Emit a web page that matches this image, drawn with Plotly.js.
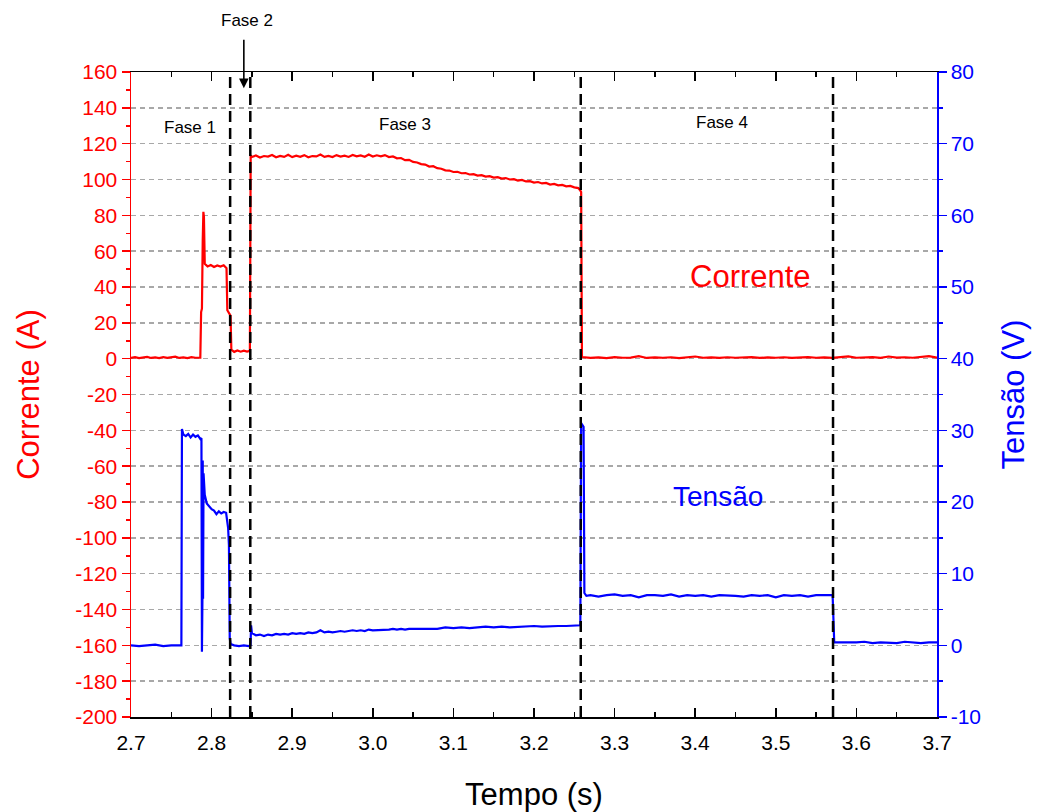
<!DOCTYPE html>
<html>
<head>
<meta charset="utf-8">
<script src="https://cdn.plot.ly/plotly-3.0.1.min.js"></script>
<style>html,body{margin:0;padding:0;background:#fff}#chart{width:1040px;height:812px}</style>
</head>
<body>
<div id="chart"></div>
<script>
// ---- Data ----
// Corrente (A) vs Tempo (s)
const tempoCorrente = [
  2.700,2.705,2.710,2.715,2.720,2.725,2.730,2.735,2.740,2.745,2.750,2.755,2.760,2.765,2.770,2.775,2.780,2.786,
  2.7870,2.7880,2.7890,2.7898,2.7905,2.7915,2.795,2.799,2.803,2.807,2.811,2.815,2.8185,2.8195,2.8215,2.8235,2.8245,
  2.828,2.832,2.836,2.840,2.844,2.8475,2.8485,
  2.850,2.855,2.860,2.865,2.870,2.875,2.880,2.885,2.890,2.895,2.900,2.905,2.910,2.915,2.920,2.925,2.930,2.935,2.940,2.945,
  2.950,2.955,2.960,2.965,2.970,2.975,2.980,2.985,2.990,2.995,3.000,3.005,3.010,3.015,3.020,3.025,3.030,3.035,3.040,3.045,
  3.050,3.055,3.060,3.065,3.070,3.075,3.080,3.085,3.090,3.095,3.100,3.105,3.110,3.115,3.120,3.125,3.130,3.135,3.140,3.145,
  3.150,3.155,3.160,3.165,3.170,3.175,3.180,3.185,3.190,3.195,3.200,3.205,3.210,3.215,3.220,3.225,3.230,3.235,3.240,3.245,
  3.250,3.255,3.2575,3.2585,3.2595,
  3.270,3.280,3.290,3.300,3.310,3.320,3.330,3.340,3.350,3.360,3.370,3.380,3.390,3.400,3.410,3.420,3.430,3.440,3.450,3.460,
  3.470,3.480,3.490,3.500,3.510,3.520,3.530,3.540,3.550,3.560,3.570,3.580,3.590,3.600,3.610,3.620,3.630,3.640,3.650,3.660,
  3.670,3.680,3.690,3.700
];
const corrente = [
  0.4,0.8,0.3,0.6,1.0,0.4,0.7,0.3,0.9,0.5,0.6,1.1,0.4,0.7,0.3,0.8,0.5,0.6,
  26,28,66,82,79,53,51.5,52.3,51.2,52.0,51.4,52.1,50.5,27,25.5,24,5,
  3.8,4.6,3.9,4.5,4.0,4.4,113.5,
  112.6,113.4,112.3,113.1,112.8,113.7,112.4,113.2,112.6,113.8,112.5,113.3,112.7,113.6,112.4,113.1,112.9,113.9,112.6,113.2,
  112.5,113.6,112.8,113.3,112.6,113.7,112.9,113.4,112.7,113.9,112.8,113.5,112.9,113.6,112.5,112.9,111.8,112.0,110.8,111.0,
  109.8,109.5,108.6,108.3,107.2,107.4,106.3,106.0,105.1,105.0,104.2,104.3,103.5,103.6,102.8,103.0,102.2,102.4,101.6,101.9,
  101.1,101.3,100.5,100.8,100.0,100.2,99.4,99.8,98.9,99.1,98.3,98.6,97.8,98.1,97.2,97.5,96.7,97.0,96.2,96.4,
  95.6,95.2,93.8,93.0,0.9,
  0.4,0.7,0.3,0.9,0.5,0.6,1.4,0.4,0.7,0.5,0.8,0.3,0.6,1.2,0.5,0.7,0.4,0.8,0.5,0.6,
  0.9,0.4,0.7,0.5,0.8,0.4,0.6,0.9,0.5,0.7,0.4,0.8,1.3,0.5,0.7,0.9,0.5,1.2,0.6,0.8,
  0.5,0.9,1.4,0.6
];

// Tensão (V) vs Tempo (s)
const tempoTensao = [
  2.700,2.710,2.720,2.730,2.740,2.750,2.7625,
  2.7632,2.765,2.768,2.771,2.774,2.777,2.780,2.783,2.786,2.7874,2.7880,2.7886,2.7890,2.7894,2.7900,2.7906,2.7915,
  2.794,2.797,2.800,2.803,2.806,2.809,2.812,2.815,2.818,2.8195,2.8205,2.8215,2.8225,2.8235,
  2.828,2.834,2.840,2.846,2.8483,2.8490,2.8500,
  2.855,2.860,2.865,2.870,2.875,2.880,2.885,2.890,2.895,2.900,2.905,2.910,2.915,2.920,2.925,2.930,2.935,2.940,2.945,
  2.950,2.955,2.960,2.965,2.970,2.975,2.980,2.985,2.990,2.995,3.000,3.005,3.010,3.015,3.020,3.025,3.030,3.035,3.040,3.045,
  3.050,3.055,3.060,3.070,3.080,3.090,3.100,3.110,3.120,3.130,3.140,3.150,3.160,3.170,3.180,3.190,3.200,3.210,3.220,3.230,
  3.240,3.250,3.2575,3.2585,3.2615,3.2625,3.265,
  3.270,3.280,3.290,3.300,3.310,3.320,3.330,3.340,3.350,3.360,3.370,3.380,3.390,3.400,3.410,3.420,3.430,3.440,3.450,3.460,
  3.470,3.480,3.490,3.500,3.510,3.520,3.530,3.540,3.550,3.560,3.5705,3.5725,
  3.580,3.590,3.600,3.610,3.620,3.630,3.640,3.650,3.660,3.670,3.680,3.690,3.700
];
const tensao = [
  0.0,-0.1,0.0,0.1,-0.1,0.0,0.0,
  30.2,29.4,29.2,29.5,29.0,29.4,29.1,29.3,28.8,28.9,-0.9,6.3,25.8,6.5,24.0,22.5,21.0,
  19.8,19.4,19.0,18.8,18.3,18.7,18.4,18.6,18.5,17.2,16.4,14.0,1.0,0.2,
  0.0,-0.1,0.0,-0.1,0.0,2.8,1.7,
  1.4,1.5,1.3,1.5,1.4,1.6,1.5,1.6,1.5,1.7,1.6,1.7,1.6,1.8,1.7,1.8,2.1,1.8,1.9,
  1.8,1.9,2.0,1.9,2.0,2.1,2.0,2.1,2.0,2.2,2.1,2.1,2.2,2.1,2.2,2.3,2.2,2.3,2.2,2.3,
  2.3,2.4,2.3,2.4,2.3,2.5,2.4,2.5,2.4,2.5,2.6,2.5,2.6,2.5,2.6,2.6,2.7,2.6,2.7,2.7,
  2.7,2.8,2.8,31.0,30.5,7.3,6.9,
  7.0,6.8,7.0,7.1,6.9,7.0,6.7,7.0,7.0,6.9,7.1,6.8,7.0,6.9,7.0,6.8,7.0,7.0,6.9,6.8,
  7.0,6.9,7.0,6.7,7.0,6.9,7.0,6.8,7.0,7.0,7.0,0.4,
  0.4,0.3,0.4,0.5,0.3,0.4,0.4,0.3,0.5,0.4,0.3,0.4,0.4
];

// Tick labels (hyphen-minus as in the reference)
const ticksCorrente = [-200,-180,-160,-140,-120,-100,-80,-60,-40,-20,0,20,40,60,80,100,120,140,160];
const rotulosCorrente = ["-200","-180","-160","-140","-120","-100","-80","-60","-40","-20","0","20","40","60","80","100","120","140","160"];
const ticksTensao = [-10,0,10,20,30,40,50,60,70,80];
const rotulosTensao = ["-10","0","10","20","30","40","50","60","70","80"];

// Phase boundaries (s) and labels
const limitesFase = [2.823, 2.848, 3.258, 3.571];
const rotulosFase = ["Fase 1", "Fase 3", "Fase 4"];
const posFaseX = [2.773, 3.040, 3.433];
const posFaseY = [129, 130.5, 132];

const FONT = "Liberation Sans, Arial, Helvetica, sans-serif";

const traces = [
  {x: tempoCorrente, y: corrente, type: "scatter", mode: "lines",
   line: {color: "#ff0000", width: 2.2}, yaxis: "y", hoverinfo: "skip"},
  {x: tempoTensao, y: tensao, type: "scatter", mode: "lines",
   line: {color: "#0000ff", width: 2.2}, yaxis: "y2", hoverinfo: "skip"}
];

const shapes = limitesFase.map(t => ({
  type: "line", xref: "x", yref: "paper", x0: t, x1: t, y0: 0, y1: 1,
  line: {color: "#000", width: 2.5, dash: "11px,6px"}
}));

const annotations = rotulosFase.map((s, i) => ({
  text: s, x: posFaseX[i], y: posFaseY[i], xref: "x", yref: "y",
  showarrow: false, font: {family: FONT, size: 17, color: "#000"}
}));
annotations.push(
  {text: "Fase 2", x: 2.844, y: 1.097, xref: "x", yref: "paper", showarrow: false,
   font: {family: FONT, size: 17, color: "#000"}},
  {text: "", x: 2.840, y: 151, xref: "x", yref: "y", showarrow: true,
   ax: 0, ay: -50, arrowhead: 2, arrowsize: 1.2, arrowwidth: 1.6, arrowcolor: "#000"},
  {text: "Corrente", x: 3.468, y: 46, xref: "x", yref: "y", showarrow: false,
   font: {family: FONT, size: 31, color: "#ff0000"}},
  {text: "Tensão", x: 3.428, y: -77, xref: "x", yref: "y", showarrow: false,
   font: {family: FONT, size: 28, color: "#0000ff"}}
);

const layout = {
  width: 1040, height: 812,
  margin: {l: 131, r: 103, t: 72, b: 95},
  paper_bgcolor: "#fff", plot_bgcolor: "#fff",
  showlegend: false,
  font: {family: FONT},
  xaxis: {
    range: [2.7, 3.7], dtick: 0.1, tick0: 2.7, tickformat: ".1f",
    ticks: "inside", ticklen: 9, tickwidth: 1.5, tickcolor: "#000",
    minor: {dtick: 0.05, ticks: "inside", ticklen: 5, tickwidth: 1.5, tickcolor: "#000", showgrid: false},
    showline: true, linecolor: "#000", linewidth: 1.5, mirror: "ticks",
    showgrid: false, zeroline: false,
    ticklabelstandoff: 6,
    tickfont: {family: FONT, size: 21, color: "#000"},
    title: {text: "Tempo (s)", font: {family: FONT, size: 31, color: "#000"}, standoff: 30}
  },
  yaxis: {
    range: [-200, 160], tickmode: "array", tickvals: ticksCorrente, ticktext: rotulosCorrente,
    ticks: "outside", ticklen: 8, tickwidth: 1.5, tickcolor: "#ff0000",
    minor: {tickmode: "linear", tick0: 0, dtick: 10, ticks: "outside", ticklen: 4, tickwidth: 1.5, tickcolor: "#ff0000", showgrid: false},
    showline: true, linecolor: "#ff0000", linewidth: 1.5,
    showgrid: true, gridcolor: "#a8a8a8", gridwidth: 1.5, griddash: "5px,4px",
    zeroline: false,
    tickfont: {family: FONT, size: 21, color: "#ff0000"},
    title: {text: "Corrente (A)", font: {family: FONT, size: 31, color: "#ff0000"}, standoff: 26}
  },
  yaxis2: {
    range: [-10, 80], tickmode: "array", tickvals: ticksTensao, ticktext: rotulosTensao,
    overlaying: "y", side: "right",
    ticks: "outside", ticklen: 8, tickwidth: 1.5, tickcolor: "#0000ff",
    minor: {tickmode: "linear", tick0: 0, dtick: 5, ticks: "outside", ticklen: 4, tickwidth: 1.5, tickcolor: "#0000ff", showgrid: false},
    showline: true, linecolor: "#0000ff", linewidth: 1.5,
    showgrid: false, zeroline: false,
    tickfont: {family: FONT, size: 21, color: "#0000ff"},
    title: {text: "Tensão (V)", font: {family: FONT, size: 31, color: "#0000ff"}, standoff: 22}
  },
  shapes: shapes,
  annotations: annotations
};

Plotly.newPlot("chart", traces, layout, {displayModeBar: false, staticPlot: true});
</script>
</body>
</html>
